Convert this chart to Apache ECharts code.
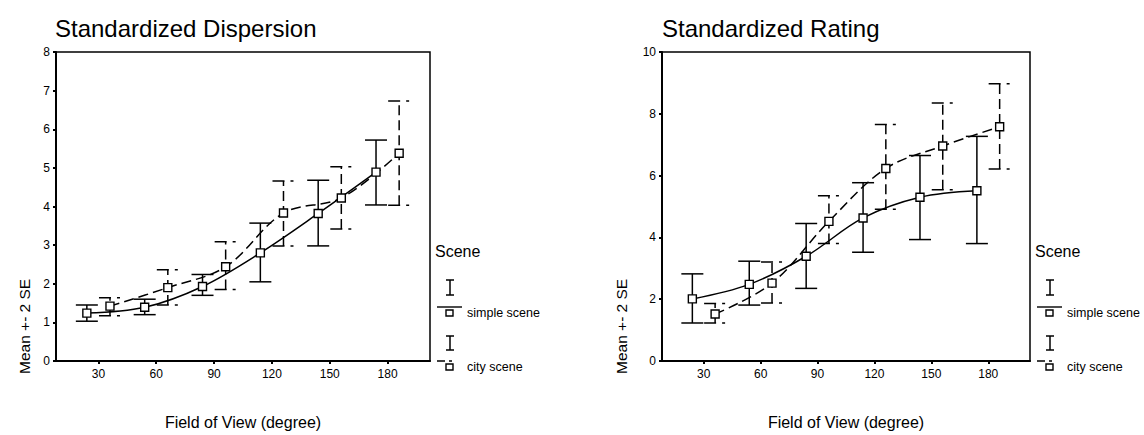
<!DOCTYPE html>
<html>
<head>
<meta charset="utf-8">
<script src="https://cdn.jsdelivr.net/npm/echarts@6/dist/echarts.min.js"></script>
<style>
html,body{margin:0;padding:0;background:#fff;}
#chart{width:1144px;height:435px;}
</style>
</head>
<body>
<div id="chart"></div>
<script>
// ---- data ----
const fieldOfView = [30, 60, 90, 120, 150, 180];
const clusterOffset = 6; // degrees, SPSS clustered error bars
const sceneNames = ['simple scene', 'city scene'];
const panelTitles = ['Standardized Dispersion', 'Standardized Rating'];

const dispSimpleMean = [1.24, 1.39, 1.93, 2.80, 3.82, 4.89];
const dispSimpleLow  = [1.03, 1.20, 1.70, 2.05, 2.98, 4.04];
const dispSimpleHigh = [1.45, 1.60, 2.24, 3.57, 4.68, 5.72];
const dispCityMean   = [1.42, 1.90, 2.44, 3.83, 4.22, 5.38];
const dispCityLow    = [1.17, 1.45, 1.85, 2.98, 3.42, 4.03];
const dispCityHigh   = [1.64, 2.36, 3.09, 4.66, 5.03, 6.73];

const rateSimpleMean = [2.01, 2.48, 3.39, 4.63, 5.30, 5.51];
const rateSimpleLow  = [1.23, 1.81, 2.35, 3.52, 3.93, 3.80];
const rateSimpleHigh = [2.82, 3.23, 4.45, 5.77, 6.65, 7.27];
const rateCityMean   = [1.52, 2.52, 4.52, 6.23, 6.96, 7.58];
const rateCityLow    = [1.23, 1.88, 3.80, 4.91, 5.54, 6.21];
const rateCityHigh   = [1.86, 3.20, 5.35, 7.65, 8.35, 8.97];

// ---- helpers ----
const FONT = '"Liberation Sans", Arial, Helvetica, sans-serif';
const xs = (off) => fieldOfView.map(v => v + off);
const pts = (x, m) => x.map((v, i) => [v, m[i]]);
const bars = (x, lo, hi) => x.map((v, i) => [v, lo[i], hi[i]]);

function errRender(dashed) {
  return function (params, api) {
    const x = api.value(0), lo = api.value(1), hi = api.value(2);
    const pLo = api.coord([x, lo]), pHi = api.coord([x, hi]);
    const hw = 11;
    const base = { stroke: '#000', lineWidth: 1.5, fill: null };
    const vStyle = Object.assign({}, base, dashed ? { lineDash: [10, 5] } : {});
    const cStyle = Object.assign({}, base, dashed ? { lineDash: [12, 6, 3, 30] } : {});
    return {
      type: 'group',
      children: [
        { type: 'line', shape: { x1: pLo[0], y1: pLo[1], x2: pHi[0], y2: pHi[1] }, style: vStyle },
        { type: 'line', shape: { x1: pHi[0] - hw, y1: pHi[1], x2: pHi[0] + hw, y2: pHi[1] }, style: cStyle },
        { type: 'line', shape: { x1: pLo[0] - hw, y1: pLo[1], x2: pLo[0] + hw, y2: pLo[1] }, style: cStyle }
      ]
    };
  };
}

function xAxisFor(gi) {
  return {
    type: 'value', gridIndex: gi, min: 8, max: 202,
    name: 'Field of View (degree)', nameLocation: 'middle', nameGap: 53,
    nameTextStyle: { fontFamily: FONT, fontSize: 16, color: '#000' },
    axisLine: { show: true, onZero: false, lineStyle: { color: '#000', width: 2 } },
    axisTick: { show: true, customValues: fieldOfView, length: 3, lineStyle: { color: '#000', width: 2 } },
    axisLabel: { customValues: fieldOfView, fontFamily: FONT, fontSize: 12, color: '#000', margin: 7 },
    splitLine: { show: false }
  };
}
function yAxisFor(gi, max, interval) {
  return {
    type: 'value', gridIndex: gi, min: 0, max: max, interval: interval,
    axisLine: { show: true, lineStyle: { color: '#000', width: 2 } },
    axisTick: { show: true, length: 3, lineStyle: { color: '#000', width: 2 } },
    axisLabel: { fontFamily: FONT, fontSize: 12, color: '#000', margin: 6 },
    splitLine: { show: false }
  };
}
function lineSeries(gi, data, dashed) {
  return {
    type: 'line', xAxisIndex: gi, yAxisIndex: gi, data: data,
    smooth: 0.35, symbol: 'rect', symbolSize: 8,
    itemStyle: { color: '#fff', borderColor: '#000', borderWidth: 1.4 },
    lineStyle: { color: '#000', width: 1.5, type: dashed ? [10, 5] : 'solid' },
    z: 3, silent: true, animation: false
  };
}
function errSeries(gi, data, dashed) {
  return {
    type: 'custom', xAxisIndex: gi, yAxisIndex: gi, data: data,
    renderItem: errRender(dashed), z: 2, silent: true, animation: false,
    encode: { x: 0, y: [1, 2] }
  };
}

// ---- legend graphics ----
function legendGraphics(x0) {
  const t = (txt, x, y, size) => ({ type: 'text', x: x, y: y,
    style: { text: txt, font: size + 'px ' + FONT, fill: '#000', textVerticalAlign: 'middle' } });
  const ibar = (cx, y1, y2) => ({ type: 'group', children: [
    { type: 'line', shape: { x1: cx, y1: y1, x2: cx, y2: y2 }, style: { stroke: '#000', lineWidth: 1.5 } },
    { type: 'line', shape: { x1: cx - 4, y1: y1, x2: cx + 4, y2: y1 }, style: { stroke: '#000', lineWidth: 1.5 } },
    { type: 'line', shape: { x1: cx - 4, y1: y2, x2: cx + 4, y2: y2 }, style: { stroke: '#000', lineWidth: 1.5 } }
  ] });
  const icon = (y, dashed) => ({ type: 'group', children: [
    { type: 'line', shape: { x1: x0 + 2, y1: y - 6, x2: x0 + 27, y2: y - 6 },
      style: { stroke: '#000', lineWidth: 1.4, lineDash: dashed ? [8, 4, 3, 20] : null } },
    { type: 'rect', shape: { x: x0 + 11, y: y - 3, width: 7, height: 6 },
      style: { stroke: '#000', fill: '#fff', lineWidth: 1.4 } }
  ] });
  return [
    t('Scene', x0, 251, 16),
    ibar(x0 + 15, 280, 295),
    icon(313, false),
    t(sceneNames[0], x0 + 32, 313, 12.5),
    ibar(x0 + 15, 336, 350),
    icon(367, true),
    t(sceneNames[1], x0 + 32, 367, 12.5)
  ];
}
function yName(x) {
  return { type: 'text', x: x, y: 374, rotation: Math.PI / 2,
    style: { text: 'Mean +- 2 SE', font: '15.5px ' + FONT, fill: '#000', textAlign: 'left', textVerticalAlign: 'middle' } };
}

const chart = echarts.init(document.getElementById('chart'), null, { renderer: 'svg' });
chart.setOption({
  backgroundColor: '#fff',
  animation: false,
  title: [
    { text: panelTitles[0], left: 50, top: 11, textStyle: { fontFamily: FONT, fontSize: 24, fontWeight: 'normal', color: '#000' } },
    { text: panelTitles[1], left: 657, top: 11, textStyle: { fontFamily: FONT, fontSize: 24, fontWeight: 'normal', color: '#000' } }
  ],
  grid: [
    { left: 56, top: 52, width: 374, height: 321, show: true, borderColor: '#000', borderWidth: 1.5, containLabel: false },
    { left: 662, top: 52, width: 368, height: 322, show: true, borderColor: '#000', borderWidth: 1.5, containLabel: false }
  ],
  xAxis: [xAxisFor(0), xAxisFor(1)],
  yAxis: [yAxisFor(0, 8, 1), yAxisFor(1, 10, 2)],
  series: [
    errSeries(0, bars(xs(-clusterOffset), dispSimpleLow, dispSimpleHigh), false),
    errSeries(0, bars(xs(clusterOffset), dispCityLow, dispCityHigh), true),
    lineSeries(0, pts(xs(-clusterOffset), dispSimpleMean), false),
    lineSeries(0, pts(xs(clusterOffset), dispCityMean), true),
    errSeries(1, bars(xs(-clusterOffset), rateSimpleLow, rateSimpleHigh), false),
    errSeries(1, bars(xs(clusterOffset), rateCityLow, rateCityHigh), true),
    lineSeries(1, pts(xs(-clusterOffset), rateSimpleMean), false),
    lineSeries(1, pts(xs(clusterOffset), rateCityMean), true)
  ],
  graphic: [].concat(legendGraphics(435), legendGraphics(1035), [yName(24), yName(621)])
});
</script>
</body>
</html>
